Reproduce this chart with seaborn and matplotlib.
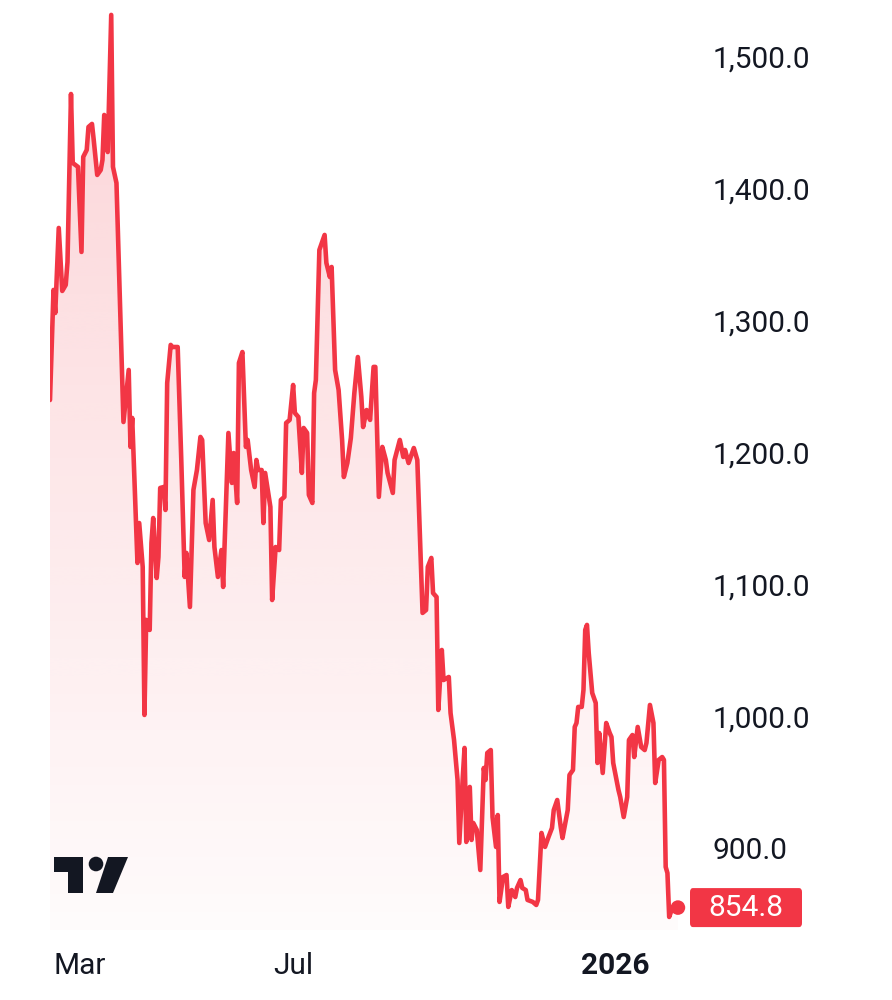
import matplotlib
matplotlib.use("Agg")
import matplotlib.pyplot as plt
import matplotlib.dates as mdates
import matplotlib.transforms as mtransforms
from matplotlib.patches import Polygon, Circle, FancyBboxPatch
import numpy as np
import pandas as pd
import seaborn as sns

# data: calendar days since start, closing price
start_date = "2025-02-12"
day_offsets = [
    0, 2, 3, 5, 7, 9, 10, 12, 13, 16, 18, 19, 21, 22, 24, 25, 27, 29, 30, 31,
    33, 35, 36, 38, 42, 45, 46, 47, 50, 51, 53, 54, 55, 57, 58, 59, 61, 62, 63, 65,
    66, 67, 69, 70, 73, 75, 77, 78, 80, 82, 84, 86, 87, 89, 91, 93, 94, 96, 98, 99,
    102, 104, 105, 107, 108, 110, 112, 113, 115, 117, 118, 119, 121, 122, 123, 126, 127, 129, 131, 132,
    134, 135, 137, 139, 140, 142, 144, 145, 147, 148, 150, 151, 152, 154, 157, 158, 160, 161, 163, 165,
    167, 168, 170, 172, 174, 176, 178, 179, 181, 183, 185, 186, 188, 190, 192, 193, 196, 197, 200, 202,
    203, 205, 208, 210, 211, 213, 215, 216, 218, 219, 221, 222, 224, 225, 228, 229, 231, 233, 234, 236,
    237, 238, 240, 241, 242, 244, 246, 248, 249, 250, 252, 253, 255, 256, 257, 259, 261, 262, 264, 266,
    267, 269, 270, 272, 273, 276, 278, 279, 281, 283, 285, 287, 288, 290, 292, 293, 296, 297, 299, 300,
    301, 302, 304, 305, 306, 307, 308, 310, 312, 313, 314, 316, 318, 320, 321, 322, 325, 326, 328, 330,
    331, 333, 334, 336, 338, 340, 341, 343, 345, 346, 348, 350, 351, 352, 353, 354, 356, 359,
]
prices = [
    1239.8, 1323.3, 1305.8, 1370.3, 1322.5, 1327.1, 1344.5, 1471.9, 1419.6, 1416.6,
    1352.1, 1424.2, 1429.5, 1446.9, 1449.2, 1437.0, 1410.5, 1414.3, 1421.9, 1456.0,
    1427.9, 1531.9, 1416.6, 1404.4, 1223.1, 1262.6, 1204.2, 1226.2, 1116.2, 1146.5,
    1113.2, 1000.9, 1073.0, 1065.4, 1131.4, 1150.3, 1104.8, 1120.7, 1173.1, 1173.8,
    1156.4, 1252.7, 1281.6, 1280.0, 1280.0, 1196.6, 1105.6, 1123.8, 1082.8, 1171.6,
    1186.7, 1211.8, 1209.5, 1146.5, 1133.6, 1164.0, 1128.3, 1105.6, 1126.0, 1098.0,
    1214.8, 1176.9, 1199.6, 1161.7, 1267.9, 1276.2, 1204.2, 1209.5, 1186.7, 1173.8,
    1194.3, 1186.7, 1186.7, 1146.5, 1184.5, 1158.7, 1088.1, 1128.3, 1126.0, 1164.0,
    1166.3, 1222.4, 1224.7, 1251.2, 1230.0, 1226.9, 1184.5, 1218.6, 1214.8, 1167.8,
    1161.7, 1245.1, 1255.0, 1353.6, 1365.0, 1343.8, 1333.1, 1340.7, 1262.6, 1247.4,
    1209.5, 1181.4, 1192.0, 1211.0, 1245.1, 1272.4, 1242.1, 1219.3, 1232.2, 1224.7,
    1264.9, 1264.9, 1166.3, 1204.2, 1194.3, 1184.5, 1169.3, 1194.3, 1209.5, 1196.6,
    1201.9, 1192.0, 1203.4, 1194.3, 1156.4, 1078.3, 1080.5, 1113.2, 1120.0, 1093.4,
    1090.4, 1004.7, 1050.2, 1027.4, 1029.7, 1002.4, 981.9, 951.6, 903.8, 953.9,
    975.9, 904.6, 946.3, 906.1, 919.0, 913.7, 883.3, 960.7, 951.6, 972.1,
    974.3, 923.5, 900.8, 925.0, 859.1, 878.0, 879.5, 855.3, 868.1, 862.8,
    869.7, 875.7, 869.7, 868.1, 860.6, 859.1, 856.8, 860.6, 911.4, 900.8,
    908.3, 915.2, 928.8, 936.4, 915.9, 907.6, 928.8, 955.4, 959.2, 991.8,
    994.8, 1007.0, 1007.0, 1019.9, 1065.4, 1069.2, 1047.9, 1017.6, 1010.0, 964.5,
    987.2, 956.9, 994.8, 987.2, 984.2, 964.5, 944.0, 938.7, 923.5, 938.7,
    981.9, 985.7, 969.0, 991.8, 976.6, 974.3, 979.7, 1008.5, 994.8, 949.3,
    966.8, 969.0, 966.8, 885.6, 881.0, 847.7, 855.3, 854.8,
]
y_ticks = [900, 1000, 1100, 1200, 1300, 1400, 1500]
x_tick_dates = ["2025-03-01", "2025-07-01", "2026-01-01"]
x_tick_labels = ["Mar", "Jul", "2026"]
last_price = prices[-1]

RED = "#F23645"
TEXT = "#131722"
W, H = 892, 1000

df = pd.DataFrame({
    "date": pd.Timestamp(start_date) + pd.to_timedelta(day_offsets, unit="D"),
    "price": prices,
})

sns.set_theme(style="white")
plt.rcParams["font.family"] = ["Roboto", "DejaVu Sans"]

fig = plt.figure(figsize=(W / 100, H / 100), dpi=100)
fig.patch.set_facecolor("white")
ax = fig.add_axes([50 / W, 70 / H, 640 / W, 930 / H])
ax.set_facecolor("white")

y_lo, y_hi = 837.8, 1543.2
x0 = mdates.date2num(df["date"].iloc[0])
x1 = mdates.date2num(df["date"].iloc[-1])

# gradient area under the line
area = ax.fill_between(df["date"], df["price"], y_lo, color="none", lw=0)
rgb = matplotlib.colors.to_rgb(RED)
grad = np.zeros((256, 1, 4))
grad[:, 0, :3] = rgb
grad[:, 0, 3] = np.linspace(0.02, 0.22, 256)
im = ax.imshow(grad, origin="lower", aspect="auto", extent=[x0, x1, y_lo, y_hi],
               interpolation="bicubic", zorder=1)
im.set_clip_path(area.get_paths()[0], transform=ax.transData)
ax.set_xlim(x0, x0 + 365.9)
ax.set_ylim(y_lo, y_hi)

sns.lineplot(data=df, x="date", y="price", ax=ax, color=RED, linewidth=3.3,
             zorder=3, solid_joinstyle="round")
sns.scatterplot(data=df.tail(1), x="date", y="price", ax=ax, color=RED, s=110,
                edgecolor="none", zorder=4, clip_on=False)

ax.yaxis.tick_right()
ax.set_yticks(y_ticks)
ax.set_yticklabels([f"{v:,.1f}" for v in y_ticks])
ax.set_xticks(pd.to_datetime(x_tick_dates))
ax.set_xticklabels(x_tick_labels)
ax.tick_params(axis="y", length=0, pad=16, labelsize=21.5, labelcolor=TEXT)
ax.tick_params(axis="x", length=0, pad=16, labelsize=21.5, labelcolor=TEXT)
ax.get_xticklabels()[-1].set_fontweight("bold")
ax.set_xlabel("")
ax.set_ylabel("")
ax.grid(False)
for s in ax.spines.values():
    s.set_visible(False)

# last price tag on the price scale
px = mtransforms.Affine2D().scale(1 / W, -1 / H).translate(0, 1) + fig.transFigure
units_per_px = (y_hi - y_lo) / 930
tag_tr = mtransforms.blended_transform_factory(px, ax.transData)
tag_h = 39 * units_per_px
tag = FancyBboxPatch((690, last_price - tag_h / 2), 112, tag_h,
                     boxstyle="round,pad=0,rounding_size=3", transform=tag_tr,
                     fc=RED, ec="none", clip_on=False, zorder=5)
ax.add_patch(tag)
ax.text(746, last_price, f"{last_price:.1f}", transform=tag_tr, color="white",
        fontsize=21.5, ha="center", va="center", zorder=6, clip_on=False)

# TradingView logo
logo = [
    Polygon([(54, 857), (83, 857), (83, 893), (68, 893), (68, 872), (54, 872)], closed=True),
    Circle((96, 864), 7.3),
    Polygon([(108, 857), (128, 857), (113, 893), (96, 893)], closed=True),
]
for p in logo:
    p.set_transform(px)
    p.set_facecolor(TEXT)
    p.set_edgecolor("none")
    p.set_zorder(7)
    fig.patches.append(p)

fig.savefig("out.png", dpi=100, facecolor="white")
